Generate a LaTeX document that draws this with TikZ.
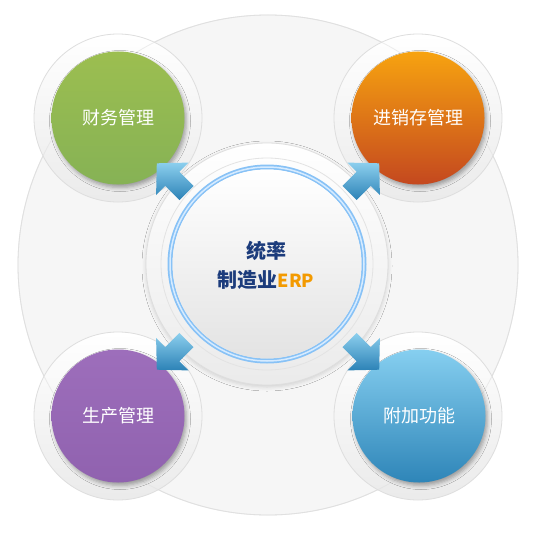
\documentclass[tikz,border=0pt]{standalone}
\usepackage{fontspec}
\newfontfamily\cjk{Noto Sans CJK SC}
\usetikzlibrary{shadows.blur}
\definecolor{ArT}{HTML}{8CCFEE}
\definecolor{ArB}{HTML}{2C82B6}
\definecolor{GrT}{HTML}{9CBE50}
\definecolor{GrB}{HTML}{86B255}
\definecolor{OrT}{HTML}{F7A310}
\definecolor{OrB}{HTML}{C4481F}
\definecolor{PuT}{HTML}{9D6EBB}
\definecolor{PuB}{HTML}{9062AF}
\definecolor{BlT}{HTML}{86CFF0}
\definecolor{BlB}{HTML}{2E85B8}
\definecolor{Navy}{HTML}{1C3C7C}
\definecolor{ErpOr}{HTML}{F39A00}
\definecolor{RingBl}{HTML}{88C2F6}
\definecolor{RingLt}{HTML}{D6EBFF}
\newcommand\bluearrow[4]{%
  \path[arrowfill] ({#1+#3*(-7.07)},{#2+#4*7.07}) -- ({#1+#3*7.07},{#2+#4*21.2})
    -- ({#1+#3*(-2.1)},{#2+#4*30.4}) -- ({#1+#3*29.7},{#2+#4*29.7})
    -- ({#1+#3*30.4},{#2+#4*(-2.1)}) -- ({#1+#3*21.2},{#2+#4*7.07})
    -- ({#1+#3*7.07},{#2+#4*(-7.07)}) -- cycle;}
\begin{document}
\begin{tikzpicture}[x=1pt,y=-1pt,
  halo/.style={circle, inner sep=0pt, draw=black!13, line width=0.8pt, top color=white, bottom color=black!8},
  sat/.style={circle, minimum size=133pt, inner sep=0pt, text=white,
    font=\cjk\fontsize{18}{20}\selectfont,
    blur shadow={shadow xshift=2pt, shadow yshift=-3pt, shadow blur radius=4pt, shadow opacity=35}},
  arrowfill/.style={top color=ArT, bottom color=ArB}]
\useasboundingbox (0,0) rectangle (535,535);
\fill[white] (0,0) rectangle (535,535);
\filldraw[fill=black!3.5, draw=black!12, line width=0.8pt] (268,265) circle[radius=250];
% halos
\node[halo, minimum size=168pt] (hg) at (118,118) {};
\node[halo, minimum size=168pt] (ho) at (418,118) {};
\node[halo, minimum size=168pt] (hp) at (118,416) {};
\node[halo, minimum size=168pt] (hb) at (418,416) {};
\draw[black!12, opacity=0.6, line width=0.8pt] (268,265) circle[radius=250];
% centre
\node[halo, minimum size=242pt, blur shadow={shadow xshift=0pt, shadow yshift=-2pt, shadow blur radius=4pt, shadow opacity=15}] (hc) at (267,264) {};
\draw[black!11, line width=0.8pt] (267,264) circle[radius=106];
\draw[RingBl, line width=5pt] (267,264) circle[radius=97];
\draw[RingLt, line width=1.5pt] (267,264) circle[radius=97];
\node[circle, minimum size=189pt, inner sep=0pt, top color=white, bottom color=black!11] (core) at (267,264) {};
\node[align=center, text=Navy, font=\cjk\bfseries\fontsize{20}{29}\selectfont] (ct) at (266,265)
  {统率\\制造业{\color{ErpOr}\fontsize{18}{29}\selectfont ERP}};
% satellites
\node[sat, top color=GrT, bottom color=GrB] (fin) at (118,118) {财务管理};
\node[sat, top color=OrT, bottom color=OrB] (inv) at (418,118) {进销存管理};
\node[sat, top color=PuT, bottom color=PuB] (prod) at (118,416) {生产管理};
\node[sat, top color=BlT, bottom color=BlB] (add) at (419,416) {附加功能};
% arrows
\bluearrow{186.5}{193}{-1}{-1}
\bluearrow{349.5}{193}{1}{-1}
\bluearrow{186.5}{340}{-1}{1}
\bluearrow{349.5}{340}{1}{1}
\end{tikzpicture}
\end{document}
